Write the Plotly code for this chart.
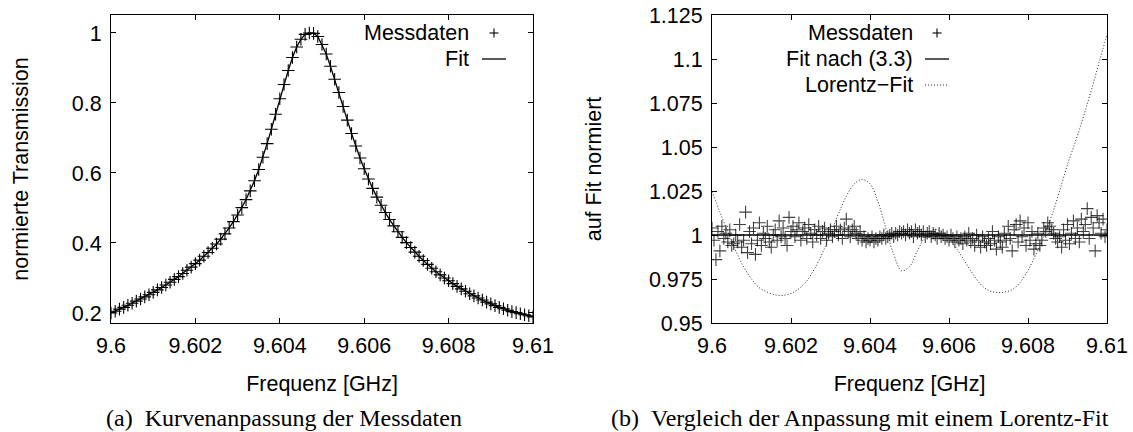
import plotly.graph_objects as go

# ---------------- data: panel (a) ----------------
freq_a = [round(9.6 + i * 0.0001, 4) for i in range(101)]
transmission_mess = [
    0.200, 0.205, 0.211, 0.216, 0.222, 0.228, 0.234, 0.240, 0.246, 0.252,
    0.259, 0.266, 0.273, 0.280, 0.288, 0.296, 0.304, 0.313, 0.322, 0.331,
    0.341, 0.351, 0.362, 0.373, 0.385, 0.397, 0.411, 0.426, 0.443, 0.461,
    0.480, 0.501, 0.524, 0.549, 0.578, 0.610, 0.645, 0.684, 0.725, 0.768,
    0.812, 0.853, 0.893, 0.930, 0.960, 0.982, 0.996, 1.000, 0.999, 0.990,
    0.967, 0.940, 0.905, 0.868, 0.830, 0.790, 0.751, 0.713, 0.677, 0.643,
    0.612, 0.583, 0.556, 0.531, 0.508, 0.487, 0.467, 0.449, 0.432, 0.416,
    0.401, 0.387, 0.374, 0.362, 0.350, 0.339, 0.328, 0.318, 0.309, 0.300,
    0.292, 0.284, 0.276, 0.269, 0.262, 0.255, 0.249, 0.243, 0.237, 0.231,
    0.226, 0.221, 0.216, 0.212, 0.208, 0.204, 0.201, 0.198, 0.195, 0.192,
    0.189,
]
transmission_fit = [
    0.200, 0.205, 0.211, 0.216, 0.222, 0.228, 0.234, 0.240, 0.246, 0.252,
    0.259, 0.266, 0.273, 0.280, 0.288, 0.296, 0.304, 0.313, 0.322, 0.331,
    0.341, 0.351, 0.362, 0.373, 0.385, 0.397, 0.411, 0.426, 0.443, 0.461,
    0.480, 0.501, 0.524, 0.549, 0.578, 0.610, 0.645, 0.684, 0.725, 0.768,
    0.812, 0.853, 0.893, 0.930, 0.960, 0.982, 0.996, 1.000, 0.999, 0.990,
    0.967, 0.940, 0.905, 0.868, 0.830, 0.790, 0.751, 0.713, 0.677, 0.643,
    0.612, 0.583, 0.556, 0.531, 0.508, 0.487, 0.467, 0.449, 0.432, 0.416,
    0.401, 0.387, 0.374, 0.362, 0.350, 0.339, 0.328, 0.318, 0.309, 0.300,
    0.292, 0.284, 0.276, 0.269, 0.262, 0.255, 0.249, 0.243, 0.237, 0.231,
    0.226, 0.221, 0.216, 0.212, 0.208, 0.204, 0.201, 0.198, 0.195, 0.192,
    0.189,
]

# ---------------- data: panel (b) ----------------
freq_b = [round(9.6 + i * 0.00005, 5) for i in range(201)]
# deviation of measured/fit from 1, in units of 1e-3
abweichung_mess = [
    4, -3, -14, 2, -9, 5, -2, 1, -4, 3, -6, -5, 0, -4, 6, -7, -3, 13, -10, 2,
    -5, 4, -11, -3, 7, -6, 1, -2, 5, -4, -7, 0, 3, -3, 8, -1, 4, -2, -6, 10,
    2, 5, -1, 3, 7, -3, 2, 4, -2, 6, 1, -4, 3, 0, 5, -2, 2, 4, -3, 1,
    3, -1, 2, 5, 0, 3, -2, 4, 9, 2, -1, 3, 5, 1, -2, 2, -3, -1, -4, -2,
    -3, -1, -4, -2, -3, -1, -2, 0, -2, -1, 0, 1, -1, 1, 0, 2, 1, 2, 0, 3,
    1, 2, -1, 3, 1, 2, 0, 2, -1, 1, 2, -1, 1, 0, -2, 1, -1, 0, -2, -1,
    -3, 0, -2, -4, -1, -3, -2, -5, -1, -3, 1, -4, -2, -6, 0, -3, -7, -1, -4, -6,
    -2, -5, 2, -3, -8, -1, -4, -7, 1, -3, 5, -2, -9, 3, 6, -4, 8, -1, 4, -6,
    7, -3, 2, -8, -5, 1, -6, -3, 4, 2, 7, 5, 3, 1, -2, -4, -1, -7, 3, -3,
    6, -5, 1, 8, -2, 4, -4, 9, 2, 6, 15, -2, 10, 4, -9, 11, 7, 1, 9, -1,
    3,
]
fit_nach_33_x = [9.6, 9.61]
fit_nach_33_y = [1.0, 1.0]
freq_lorentz = [round(9.6 + i * 0.0002, 4) for i in range(51)]
lorentz_fit = [
    1.0248, 1.013, 1.002, 0.991, 0.982, 0.975, 0.970, 0.9675, 0.966, 0.9657,
    0.9668, 0.9695, 0.974, 0.981, 0.990, 1.001, 1.012, 1.022, 1.029, 1.0316,
    1.029, 1.019, 1.004, 0.989, 0.9797, 0.982, 0.991, 0.999, 1.003, 1.002,
    0.998, 0.992, 0.985, 0.978, 0.972, 0.9685, 0.9674, 0.9675, 0.969, 0.973,
    0.980, 0.989, 0.999, 1.011, 1.025, 1.040, 1.053, 1.067, 1.082, 1.098,
    1.114,
]
mess_b = [1 + d / 1000 for d in abweichung_mess]

x_ticks = [9.6, 9.602, 9.604, 9.606, 9.608, 9.61]
x_ticktext = ["9.6", "9.602", "9.604", "9.606", "9.608", "9.61"]
ya_ticks = [0.2, 0.4, 0.6, 0.8, 1.0]
ya_ticktext = ["0.2", "0.4", "0.6", "0.8", "1"]
yb_ticks = [0.95, 0.975, 1.0, 1.025, 1.05, 1.075, 1.1, 1.125]
yb_ticktext = ["0.95", "0.975", "1", "1.025", "1.05", "1.075", "1.1", "1.125"]

W, H = 1133, 432
SANS = "Liberation Sans, Arial, Helvetica, sans-serif"
SERIF = "Liberation Serif, Times New Roman, serif"
FS = 21.5
DOT = "1px,2px"

fig = go.Figure()

cross = dict(symbol="cross-thin", size=9, line=dict(width=1.1, color="black"), color="black")

fig.add_trace(go.Scatter(x=freq_a, y=transmission_fit, mode="lines",
                         line=dict(color="black", width=1.3), name="Fit",
                         xaxis="x", yaxis="y", showlegend=False))
fig.add_trace(go.Scatter(x=freq_a, y=transmission_mess, mode="markers",
                         marker=cross, name="Messdaten",
                         xaxis="x", yaxis="y", showlegend=False))

fig.add_trace(go.Scatter(x=freq_b, y=mess_b, mode="markers",
                         marker=dict(symbol="cross-thin", size=9,
                                     line=dict(width=1.1, color="rgba(0,0,0,0.75)")),
                         name="Messdaten", xaxis="x2", yaxis="y2", showlegend=False))
fig.add_trace(go.Scatter(x=fit_nach_33_x, y=fit_nach_33_y, mode="lines",
                         line=dict(color="black", width=1.3), name="Fit nach (3.3)",
                         xaxis="x2", yaxis="y2", showlegend=False))
fig.add_trace(go.Scatter(x=freq_lorentz, y=lorentz_fit, mode="lines",
                         line=dict(color="#222222", width=1, dash=DOT, shape="spline"),
                         name="Lorentz-Fit", xaxis="x2", yaxis="y2", showlegend=False))


def px_x(p):
    return p / W


def px_y(p):
    return 1 - p / H


dom_y = [px_y(323), px_y(15)]
axis_common = dict(showline=True, linecolor="black", linewidth=1, mirror="ticks",
                   ticks="inside", ticklen=5, tickcolor="black", tickwidth=1,
                   showgrid=False, zeroline=False, automargin=False,
                   tickfont=dict(family=SANS, size=FS, color="black"))
title_font = dict(family=SANS, size=FS, color="black")

fig.update_layout(
    template="none",
    width=W, height=H, margin=dict(l=0, r=0, t=0, b=0, pad=0),
    paper_bgcolor="white", plot_bgcolor="white", showlegend=False,
    xaxis=dict(domain=[px_x(111), px_x(533)], range=[9.6, 9.61], anchor="y",
               tickvals=x_ticks, ticktext=x_ticktext, ticklabelstandoff=3,
               title=dict(text="Frequenz [GHz]", font=title_font, standoff=19),
               **axis_common),
    yaxis=dict(domain=dom_y, range=[0.1714, 1.0514], anchor="x",
               tickvals=ya_ticks, ticktext=ya_ticktext, ticklabelstandoff=4,
               title=dict(text="normierte Transmission", font=title_font, standoff=37),
               **axis_common),
    xaxis2=dict(domain=[px_x(712), px_x(1107)], range=[9.6, 9.61], anchor="y2",
                tickvals=x_ticks, ticktext=x_ticktext, ticklabelstandoff=3,
                title=dict(text="Frequenz [GHz]", font=title_font, standoff=19),
                **axis_common),
    yaxis2=dict(domain=dom_y, range=[0.95, 1.125], anchor="x2",
                tickvals=yb_ticks, ticktext=yb_ticktext, ticklabelstandoff=4,
                title=dict(text="auf Fit normiert", font=title_font, standoff=41),
                **axis_common),
)

# legends (drawn manually: gnuplot style, text right-aligned, sample on the right)
legend_items = [
    # (text right edge px, y px, text, kind, sample left px, sample right px)
    (471, 33, "Messdaten", "cross", 482, 506),
    (471, 59, "Fit", "solid", 482, 506),
    (915, 33, "Messdaten", "cross", 925, 949),
    (915, 59, "Fit nach (3.3)", "solid", 925, 949),
    (915, 85, "Lorentz\u2212Fit", "dot", 925, 949),
]
for xr, yc, txt, kind, s0, s1 in legend_items:
    fig.add_annotation(x=px_x(xr), y=px_y(yc), xref="paper", yref="paper",
                       text=txt, showarrow=False, xanchor="right", yanchor="middle",
                       font=dict(family=SANS, size=FS, color="black"))
    if kind == "cross":
        cx = (s0 + s1) / 2
        fig.add_shape(type="line", xref="paper", yref="paper",
                      x0=px_x(cx - 4.5), x1=px_x(cx + 4.5), y0=px_y(yc), y1=px_y(yc),
                      line=dict(color="black", width=1.1))
        fig.add_shape(type="line", xref="paper", yref="paper",
                      x0=px_x(cx), x1=px_x(cx), y0=px_y(yc - 4.5), y1=px_y(yc + 4.5),
                      line=dict(color="black", width=1.1))
    else:
        fig.add_shape(type="line", xref="paper", yref="paper",
                      x0=px_x(s0), x1=px_x(s1), y0=px_y(yc), y1=px_y(yc),
                      line=dict(color="black" if kind == "solid" else "#222222",
                                width=1.3 if kind == "solid" else 1,
                                dash="solid" if kind == "solid" else DOT))

# sub-captions
fig.add_annotation(x=px_x(284), y=px_y(418), xref="paper", yref="paper", showarrow=False,
                   xanchor="center", yanchor="middle",
                   text="(a)\u2002Kurvenanpassung der Messdaten",
                   font=dict(family=SERIF, size=24, color="black"))
fig.add_annotation(x=px_x(860), y=px_y(418), xref="paper", yref="paper", showarrow=False,
                   xanchor="center", yanchor="middle",
                   text="(b)\u2002Vergleich der Anpassung mit einem Lorentz-Fit",
                   font=dict(family=SERIF, size=24, color="black"))

fig.write_html("out.html")
